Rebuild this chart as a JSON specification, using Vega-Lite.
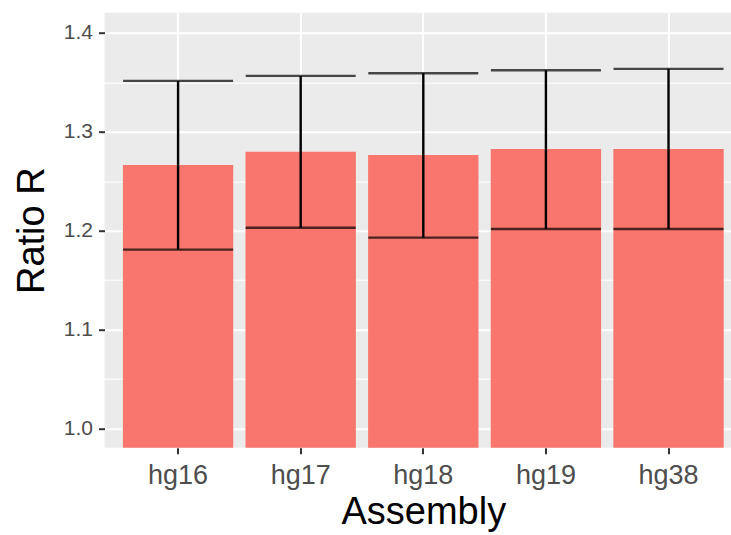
{
  "$schema": "https://vega.github.io/schema/vega-lite/v6.json",
  "autosize": "none",
  "padding": {"left": 104.5, "top": 12.7, "right": 0, "bottom": 87.3},
  "width": 626.5,
  "height": 435,
  "background": "white",
  "config": {"view": {"fill": "#EBEBEB", "stroke": null}, "font": "Liberation Sans"},
  "data": {"values": [
    {"assembly": "hg16", "ratio": 1.2665, "lower": 1.1808, "upper": 1.3515},
    {"assembly": "hg17", "ratio": 1.2797, "lower": 1.2030, "upper": 1.3566},
    {"assembly": "hg18", "ratio": 1.2766, "lower": 1.1929, "upper": 1.3593},
    {"assembly": "hg19", "ratio": 1.2827, "lower": 1.2017, "upper": 1.3623},
    {"assembly": "hg38", "ratio": 1.2827, "lower": 1.2017, "upper": 1.3637}
  ]},
  "layer": [
    {
      "mark": {"type": "bar", "color": "#F8766D", "clip": true},
      "encoding": {
        "x": {"field": "assembly", "type": "nominal", "sort": null,
          "scale": {"range": [0, 637.6], "paddingInner": 0.1, "paddingOuter": 0.15},
          "axis": {"title": "Assembly", "labelAngle": 0, "labelFontSize": 27, "labelColor": "#4D4D4D",
            "labelBaseline": "alphabetic", "labelPadding": 29.3, "tickSize": 6, "tickColor": "#333333", "tickWidth": 2,
            "domain": false, "grid": true, "gridColor": "white", "gridWidth": 2, "bandPosition": 0.5,
            "titleFontSize": 38, "titleFontWeight": "normal", "titleColor": "black",
            "titleX": 318.8, "titleY": 75.5, "titleBaseline": "alphabetic", "titleAlign": "center"}},
        "y": {"field": "ratio", "type": "quantitative",
          "scale": {"domain": [0.9804, 1.4205], "zero": false, "nice": false},
          "axis": {"title": "Ratio R", "values": [1.0, 1.1, 1.2, 1.3, 1.4], "format": ".1f",
            "labelFontSize": 21, "labelColor": "#4D4D4D", "labelPadding": 6, "tickSize": 6,
            "tickColor": "#333333", "tickWidth": 2, "domain": false, "grid": true, "gridColor": "white", "gridWidth": 2,
            "titleFontSize": 38, "titleFontWeight": "normal", "titleColor": "black",
            "titleX": -61.5, "titleY": 217.5, "titleAngle": 270, "titleBaseline": "alphabetic", "titleAlign": "center"}}
      }
    },
    {
      "mark": {"type": "rule", "color": "black", "strokeWidth": 2.4},
      "encoding": {
        "x": {"field": "assembly", "type": "nominal", "sort": null},
        "y": {"field": "lower", "type": "quantitative",
          "axis": {"values": [1.05, 1.15, 1.25, 1.35], "grid": true, "gridColor": "white", "gridWidth": 1,
            "labels": false, "ticks": false, "domain": false, "title": null}},
        "y2": {"field": "upper"}
      }
    },
    {
      "mark": {"type": "tick", "color": "black", "thickness": 2.4, "size": 110},
      "encoding": {
        "x": {"field": "assembly", "type": "nominal", "sort": null},
        "y": {"field": "lower", "type": "quantitative", "axis": null}
      }
    },
    {
      "mark": {"type": "tick", "color": "black", "thickness": 2.4, "size": 110},
      "encoding": {
        "x": {"field": "assembly", "type": "nominal", "sort": null},
        "y": {"field": "upper", "type": "quantitative", "axis": null}
      }
    }
  ],
  "resolve": {"axis": {"y": "independent"}}
}
